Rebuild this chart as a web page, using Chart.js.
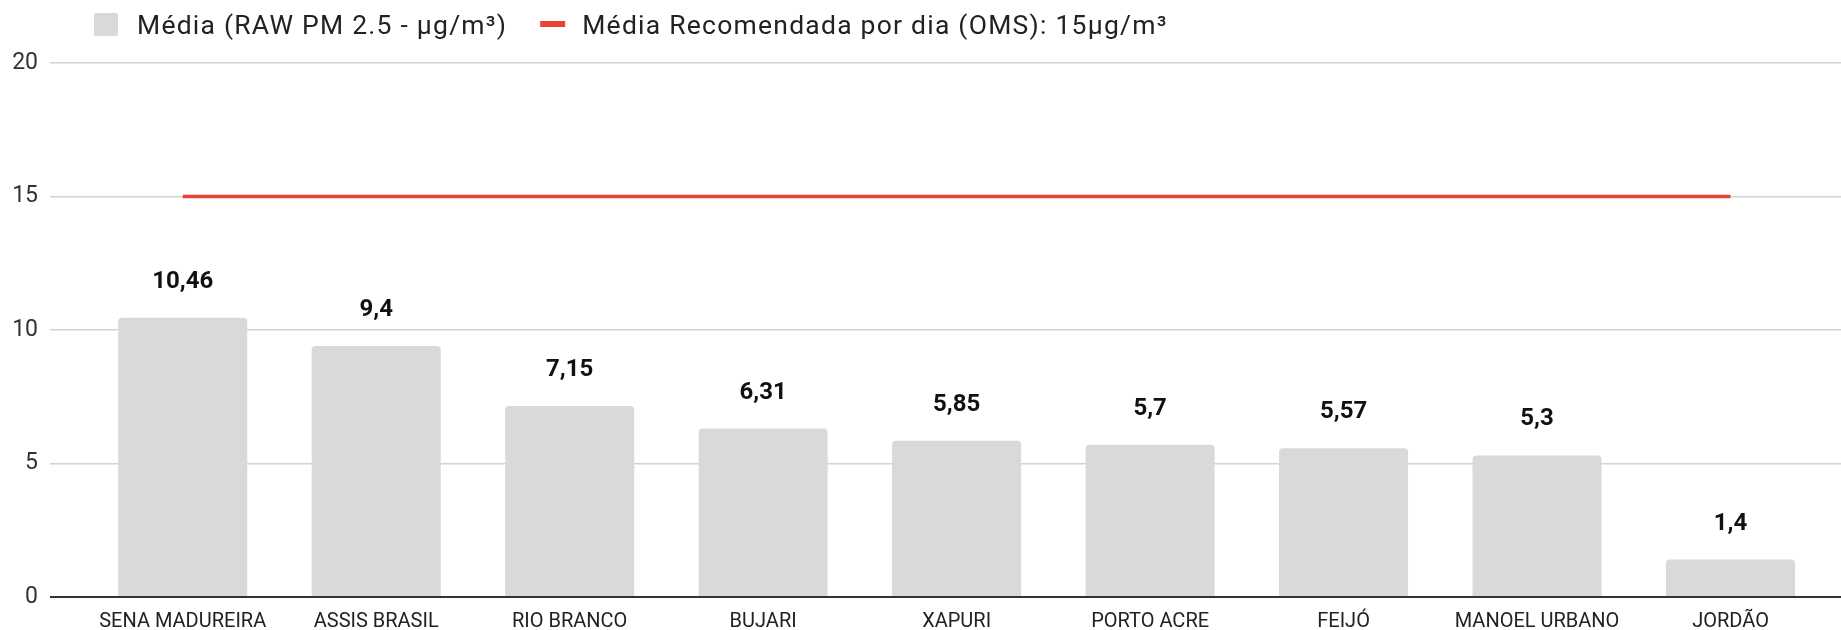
<!DOCTYPE html>
<html><head><meta charset="utf-8">
<script src="https://cdn.jsdelivr.net/npm/chart.js@4.4.0/dist/chart.umd.min.js"></script>
<style>html,body{margin:0;padding:0;background:#fff}#wrap{width:1841px;height:630px}</style>
</head><body><div id="wrap"><canvas id="c" width="1841" height="630"></canvas></div>
<script>
const categories = ['SENA MADUREIRA','ASSIS BRASIL','RIO BRANCO','BUJARI','XAPURI','PORTO ACRE','FEIJÓ','MANOEL URBANO','JORDÃO'];
const mediaValues = [10.46, 9.4, 7.15, 6.31, 5.85, 5.7, 5.57, 5.3, 1.4];
const recommendedValues = [15, 15, 15, 15, 15, 15, 15, 15, 15];
const yTicks = [0, 5, 10, 15, 20];
const seriesLabels = ['Média (RAW PM 2.5 - µg/m³)', 'Média Recomendada por dia (OMS): 15µg/m³'];

const FONT = 'Roboto, "Noto Sans", sans-serif';

const valueLabels = {
  id: 'valueLabels',
  afterDatasetsDraw(chart) {
    const meta = chart.getDatasetMeta(0);
    const ctx = chart.ctx;
    ctx.save();
    ctx.font = 'bold 24px ' + FONT;
    ctx.fillStyle = '#111';
    ctx.textAlign = 'center';
    ctx.textBaseline = 'alphabetic';
    meta.data.forEach((el, i) => {
      const txt = mediaValues[i].toLocaleString('pt-BR');
      ctx.fillText(txt, el.x, el.y - 30);
    });
    ctx.restore();
  }
};

const customLegend = {
  id: 'customLegend',
  afterDraw(chart) {
    const ctx = chart.ctx;
    const ds = chart.data.datasets;
    const sx = 1.02;
    ctx.save();
    ctx.font = '26px ' + FONT;
    ctx.letterSpacing = '1.2px';
    ctx.textBaseline = 'alphabetic';
    ctx.textAlign = 'left';
    let x = 94;
    ctx.fillStyle = ds[0].backgroundColor;
    ctx.beginPath();
    ctx.roundRect(x, 13, 24, 23, 2);
    ctx.fill();
    x = 137;
    ctx.fillStyle = '#222';
    ctx.save();
    ctx.translate(x, 34);
    ctx.scale(sx, 1);
    ctx.fillText(ds[0].label, 0, 0);
    const w0 = ctx.measureText(ds[0].label).width * sx;
    ctx.restore();
    x += w0 + 33;
    ctx.fillStyle = ds[1].borderColor;
    ctx.fillRect(x, 21, 25, 6);
    x += 42;
    ctx.fillStyle = '#222';
    ctx.save();
    ctx.translate(x, 34);
    ctx.scale(sx, 1);
    ctx.fillText(ds[1].label, 0, 0);
    ctx.restore();
    ctx.restore();
  }
};

new Chart(document.getElementById('c'), {
  data: {
    datasets: [
      {
        type: 'bar',
        label: seriesLabels[0],
        data: mediaValues.map((v, i) => ({ x: i, y: v })),
        backgroundColor: '#d9d9d9',
        borderRadius: 4,
        barPercentage: 0.667,
        categoryPercentage: 1,
        order: 2
      },
      {
        type: 'line',
        label: seriesLabels[1],
        data: recommendedValues.map((v, i) => ({ x: i, y: v })),
        borderColor: '#ea4335',
        backgroundColor: '#ea4335',
        borderWidth: 3.5,
        pointRadius: 0,
        order: 1
      }
    ]
  },
  options: {
    responsive: false,
    animation: false,
    devicePixelRatio: 1,
    layout: { padding: { top: 63, left: 0, right: 0, bottom: 0 } },
    plugins: { legend: { display: false }, tooltip: { enabled: false } },
    scales: {
      x: {
        type: 'linear',
        position: 'bottom',
        offset: false,
        min: -0.686,
        max: 8.571,
        grid: { display: false, drawTicks: false },
        border: { display: false },
        afterBuildTicks: s => { s.ticks = categories.map((_, i) => ({ value: i })); },
        afterFit: s => { s.height = 33; },
        ticks: {
          autoSkip: false,
          maxRotation: 0,
          padding: 13,
          font: { family: FONT, size: 20 },
          color: '#222',
          callback: v => categories[v] ?? ''
        }
      },
      y: {
        min: 0,
        max: 20,
        afterBuildTicks: s => { s.ticks = yTicks.map(v => ({ value: v })); },
        afterFit: s => { s.width = 50; },
        border: { display: false },
        grid: {
          drawTicks: false,
          color: c => c.tick && c.tick.value === 0 ? '#333' : '#d3d3d3',
          lineWidth: c => c.tick && c.tick.value === 0 ? 2 : 1.5
        },
        ticks: {
          padding: 12,
          font: { family: FONT, size: 23 },
          color: '#333'
        }
      }
    }
  },
  plugins: [valueLabels, customLegend]
});
</script>
</body></html>
